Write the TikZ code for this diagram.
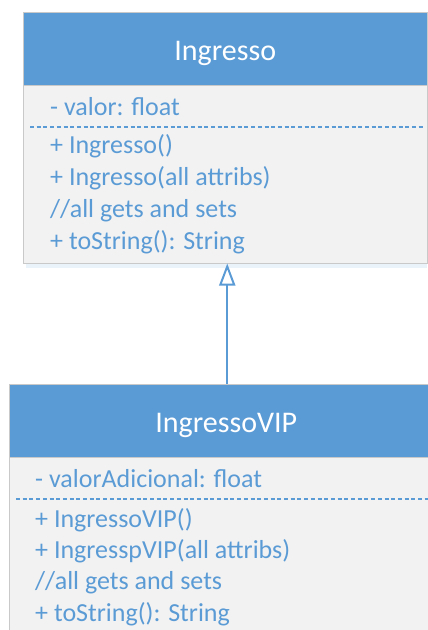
\documentclass[tikz,border=0pt]{standalone}
\usepackage{fontspec}
\setmainfont{Carlito}
\usetikzlibrary{arrows.meta,positioning}
\definecolor{umlblue}{HTML}{5B9BD5}
\definecolor{umlfill}{HTML}{F2F2F2}
\definecolor{umlborder}{HTML}{C9C9C9}

\begin{document}
\begin{tikzpicture}[x=1pt, y=-1pt,
  classbody/.style = {fill=umlfill, draw=umlborder, line width=1pt, inner sep=0pt},
  classhead/.style = {fill=umlblue, draw=umlborder, line width=1pt, inner sep=0pt,
                      text=white, font=\fontsize{30}{36}\selectfont,
                      text height=23pt, text depth=0pt},
  member/.style    = {text=umlblue, font=\fontsize{26}{32}\selectfont,
                      anchor=base west, inner sep=0pt},
  separator/.style = {draw=umlblue, line width=1.3pt, dash pattern=on 4pt off 2.7pt},
  inherit/.style   = {draw=umlblue, line width=2pt,
                      -{Triangle[open, width=16pt, length=22pt, line width=2pt]}}
]
\clip (0,0) rectangle (428,630);
\useasboundingbox (0,0) rectangle (428,630);

%%%% Class Ingresso:
\fill[umlblue!12] (26,263) rectangle (427,268);
\node[classbody, minimum width=403.5pt, minimum height=251pt] (ingresso) at (225.25,137.5) {};
\node[classhead, minimum width=403.5pt, minimum height=73pt] (ingressohead) at (225.25,48.5) {Ingresso};
\node[member] (valor) at (50,115) {- valor: float};
\coordinate (sepa) at (30,127);
\coordinate (sepb) at (423,127);
\draw[separator] (sepa) -- (sepb);
\node[member] (ingressoA) at (50,153) {+ Ingresso()};
\node[member] (ingressoB) at (50,185) {+ Ingresso(all attribs)};
\node[member] (getsA) at (50,217) {//all gets and sets};
\node[member] (tostringA) at (50,249) {+ toString(): String};

%%%% Class IngressoVIP:
\node[classbody, minimum width=433.5pt, minimum height=276pt] (ingressovip) at (226.25,522) {};
\node[classhead, minimum width=433.5pt, minimum height=73pt] (viphead) at (226.25,420.5) {IngressoVIP};
\node[member] (adicional) at (35,487) {- valorAdicional: float};
\coordinate (sepc) at (16,499);
\coordinate (sepd) at (428,499);
\draw[separator] (sepc) -- (sepd);
\node[member] (vipA) at (35,527) {+ IngressoVIP()};
\node[member] (vipB) at (35,558) {+ IngresspVIP(all attribs)};
\node[member] (getsB) at (35,589) {//all gets and sets};
\node[member] (tostringB) at (35,621) {+ toString(): String};

%%%% Generalisation:
\draw[inherit] ([xshift=1pt]viphead.north) -- ([xshift=1pt]viphead.north |- ingresso.south);
\end{tikzpicture}
\end{document}
